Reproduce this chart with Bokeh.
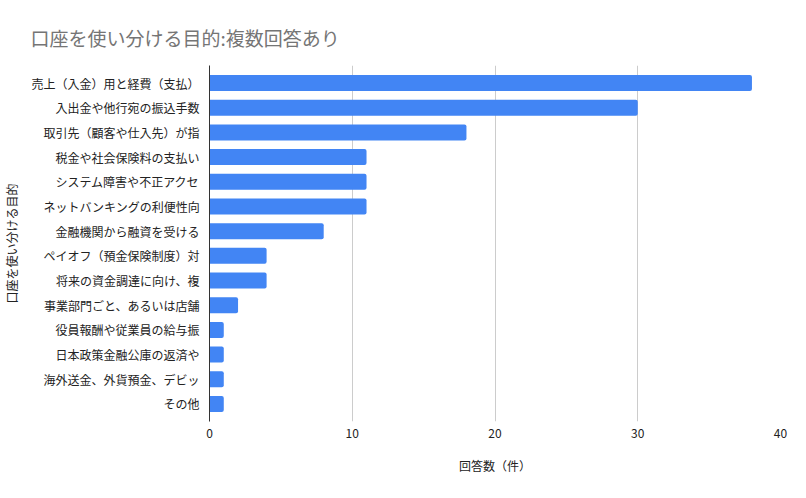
from bokeh.plotting import figure
from bokeh.models import FactorRange, Range1d, Title, FixedTicker
from bokeh.embed import file_html
from bokeh.resources import INLINE

categories = [
    "売上（入金）用と経費（支払）",
    "入出金や他行宛の振込手数",
    "取引先（顧客や仕入先）が指",
    "税金や社会保険料の支払い",
    "システム障害や不正アクセ",
    "ネットバンキングの利便性向",
    "金融機関から融資を受ける",
    "ペイオフ（預金保険制度）対",
    "将来の資金調達に向け、複",
    "事業部門ごと、あるいは店舗",
    "役員報酬や従業員の給与振",
    "日本政策金融公庫の返済や",
    "海外送金、外貨預金、デビッ",
    "その他",
]
counts = [38, 30, 18, 11, 11, 11, 8, 4, 4, 2, 1, 1, 1, 1]
x_ticks = [0, 10, 20, 30, 40]

title_text = "口座を使い分ける目的:複数回答あり"
x_title = "回答数（件）"
y_title = "口座を使い分ける目的"

FONT = "Noto Sans CJK JP"

p = figure(
    width=790, height=482,
    y_range=FactorRange(*list(reversed(categories)), range_padding=0.03),
    x_range=Range1d(0, 40),
    output_backend="svg", toolbar_location=None,
    min_border_left=199, min_border_right=10,
    min_border_top=65, min_border_bottom=61,
)
p.title = Title(text=title_text, text_font=FONT, text_font_size="19px",
                text_color="#757575", text_font_style="normal",
                align="left", offset=-179, standoff=29)

p.hbar(y=categories, right=counts, height=0.65, left=0,
       fill_color="#4285F4", line_color=None,
       border_radius=(0, 2, 2, 0))

p.outline_line_color = None
p.ygrid.grid_line_color = None
p.xgrid.grid_line_color = "#cccccc"
p.xgrid.ticker = FixedTicker(ticks=x_ticks)

p.xaxis.ticker = FixedTicker(ticks=x_ticks)
p.xaxis.axis_line_color = None
p.xaxis.major_tick_line_color = None
p.xaxis.minor_tick_line_color = None
p.xaxis.major_label_standoff = 1
p.xaxis.major_label_text_font = FONT
p.xaxis.major_label_text_font_size = "12px"
p.xaxis.major_label_text_color = "#222222"
p.xaxis.axis_label = x_title
p.xaxis.axis_label_text_font = FONT
p.xaxis.axis_label_text_font_size = "12px"
p.xaxis.axis_label_text_font_style = "normal"
p.xaxis.axis_label_text_color = "#222222"
p.xaxis.axis_label_standoff = 16

p.yaxis.axis_line_color = "#333333"
p.yaxis.major_tick_line_color = None
p.yaxis.minor_tick_line_color = None
p.yaxis.major_label_standoff = 4
p.yaxis.major_label_text_font = FONT
p.yaxis.major_label_text_font_size = "12px"
p.yaxis.major_label_text_color = "#222222"
p.yaxis.axis_label = y_title
p.yaxis.axis_label_text_font = FONT
p.yaxis.axis_label_text_font_size = "12px"
p.yaxis.axis_label_text_font_style = "normal"
p.yaxis.axis_label_text_color = "#222222"
p.yaxis.axis_label_standoff = 8

open("out.html", "w").write(file_html(p, INLINE))
